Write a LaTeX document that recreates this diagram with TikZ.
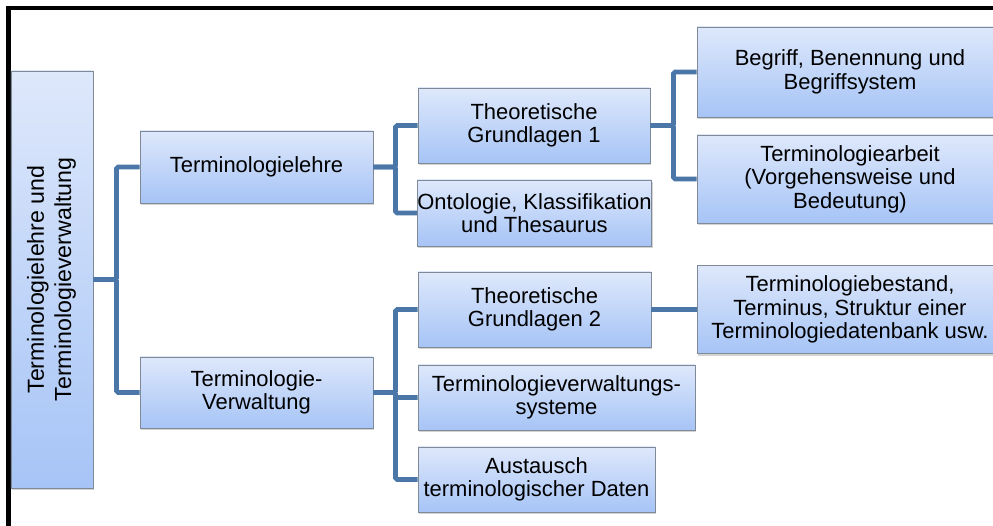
\documentclass[tikz,border=0pt]{standalone}
\usepackage{fontspec}
\setmainfont{Liberation Sans}
\usepackage{tikz}
\usetikzlibrary{positioning,shadows}
\definecolor{linkblue}{RGB}{74,118,168}
\definecolor{boxtop}{RGB}{222,232,251}
\definecolor{boxbottom}{RGB}{166,196,246}
\definecolor{boxline}{RGB}{128,138,150}
\tikzset{
  box/.style={draw=boxline, line width=0.5pt, top color=boxtop, bottom color=boxbottom,
    align=center, inner sep=0pt, font=\fontsize{12.5}{13.3}\selectfont,
    drop shadow={opacity=0.35, shadow xshift=0.6pt, shadow yshift=-1.4pt}},
  link/.style={draw=linkblue, line width=2.7pt, rounded corners=1pt},
  frame/.style={draw=black, line width=2.6pt}
}

\begin{document}
\begin{tikzpicture}
\useasboundingbox (0,0) rectangle (19.86,-10.52);
% Outer frame (top and left edge only)
\draw[frame] (20.2,-0.16) -- (0.17,-0.16) -- (0.17,-10.8);

% Root
\node[box, minimum width=1.64cm, minimum height=8.34cm, font=\fontsize{13.2}{15.5}\selectfont] (root) at (1.04,-5.59)
  {\rotatebox{90}{\begin{tabular}{@{}c@{}}Terminologielehre und\\Terminologieverwaltung\end{tabular}}};

% Second level
\node[box, minimum width=4.66cm, minimum height=1.44cm] (lehre) at (5.13,-3.34) {Terminologielehre};
\node[box, minimum width=4.66cm, minimum height=1.42cm] (verw) at (5.13,-7.85) {Terminologie-\\Verwaltung};

% Third level
\node[box, minimum width=4.64cm, minimum height=1.50cm] (grund1) at (10.68,-2.51) {Theoretische\\Grundlagen 1};
\node[box, minimum width=4.66cm, minimum height=1.32cm] (onto) at (10.69,-4.26) {Ontologie, Klassifikation\\und Thesaurus};
\node[box, minimum width=4.66cm, minimum height=1.50cm] (grund2) at (10.69,-6.19) {Theoretische\\Grundlagen 2};
\node[box, minimum width=5.54cm, minimum height=1.30cm] (tvs) at (11.13,-7.95) {Terminologieverwaltungs-\\systeme};
\node[box, minimum width=4.74cm, minimum height=1.30cm] (daten) at (10.73,-9.59) {Austausch\\terminologischer Daten};

% Fourth level
\node[box, minimum width=6.12cm, minimum height=1.80cm] (begriff) at (17.0,-1.44) {Begriff, Benennung und\\Begriffsystem};
\node[box, minimum width=6.12cm, minimum height=1.76cm] (arbeit) at (17.0,-3.58) {Terminologiearbeit\\(Vorgehensweise und\\Bedeutung)};
\node[box, minimum width=6.12cm, minimum height=1.76cm] (bestand) at (17.0,-6.19) {Terminologiebestand,\\Terminus, Struktur einer\\Terminologiedatenbank usw.};

% Connectors
\draw[link] (root.east) -- ++(0.46,0) |- (lehre.west);
\draw[link] (root.east) -- ++(0.46,0) |- (verw.west);
\draw[link] (lehre.east) -- ++(0.44,0) |- (grund1.west);
\draw[link] (lehre.east) -- ++(0.44,0) |- (onto.west);
\draw[link] (grund1.east) -- ++(0.46,0) |- (begriff.west);
\draw[link] (grund1.east) -- ++(0.46,0) |- (arbeit.west);
\draw[link] (verw.east) -- ++(0.44,0) |- (grund2.west);
\draw[link] (verw.east) -- ++(0.44,0) |- (tvs.west);
\draw[link] (verw.east) -- ++(0.44,0) |- (daten.west);
\draw[link] (grund2.east) -- (bestand.west);
\end{tikzpicture}
\end{document}
